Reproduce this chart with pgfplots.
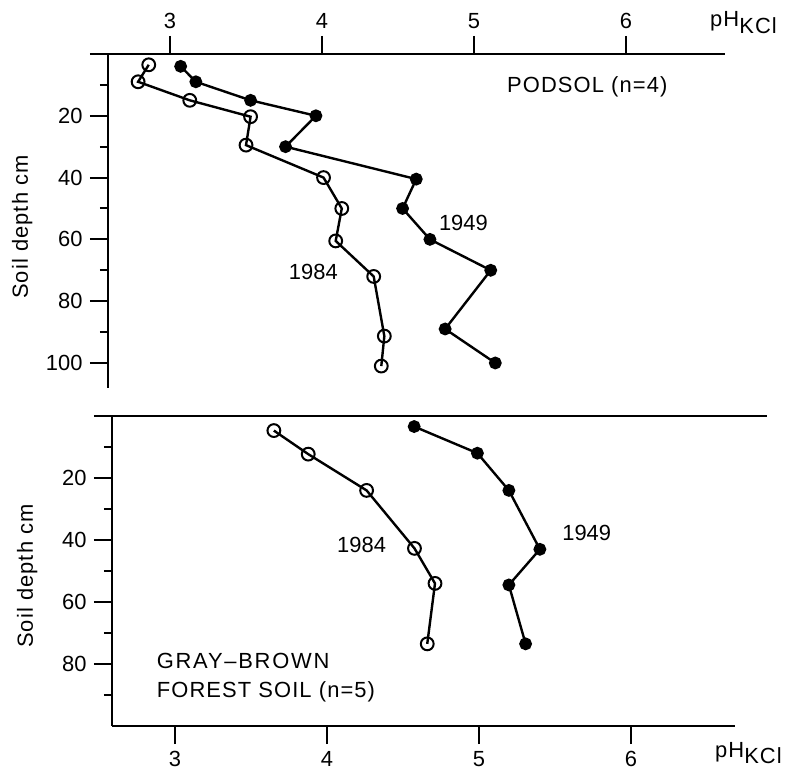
\documentclass[border=0pt]{standalone}
\usepackage{pgfplots}
\pgfplotsset{compat=1.18}
\usepackage{fontspec}
\setmainfont{Liberation Sans}
\newfontfamily\spaced[LetterSpace=5]{Liberation Sans}

\begin{document}
\fontsize{22}{26}\selectfont
\begin{tikzpicture}
\useasboundingbox (0,0) rectangle (787bp,775bp);
\pgfplotsset{
  common/.style={
    x=152bp, y=3.09bp, y dir=reverse, clip=false,
    axis line style={line width=2bp},
    tick style={line width=2bp, black},
    major tick length=18bp, minor tick length=8bp,
    tick align=outside,
    /pgf/number format/assume math mode=true,
    ticklabel style={font=\fontsize{22}{26}\selectfont},
    xtick={3,4,5,6},
    minor ytick={10,30,50,70,90},
  },
  s84/.style={line width=2.4bp, black, mark=o, mark size=6.4bp, mark options={fill=white, line width=2bp}},
  s49/.style={line width=2.4bp, black, mark=*, mark size=5.2bp, mark options={fill=black}},
}
% ---------------- top panel: PODSOL
\begin{axis}[common,
  at={(108bp,387.3bp)}, anchor=south west,
  xmin=2.592, xmax=6.651, ymin=0, ymax=108,
  axis x line*=top, axis y line*=left,
  ytick={0,20,40,60,80,100}, yticklabels={,20,40,60,80,100},
  xlabel={\fontsize{22}{26}\selectfont\spaced pH\raisebox{-6.5bp}{KCl}},
  xlabel style={at={(axis description cs:0.9757,1.081)}, anchor=base west, inner sep=0pt},
  ylabel={\spaced Soil depth cm},
  ylabel style={at={(axis description cs:-0.139,0.4816)}, anchor=center},
]
\addplot[s49] coordinates {(3.07,4) (3.17,9) (3.53,15) (3.96,20) (3.76,30) (4.62,40.5) (4.53,50) (4.71,60) (5.11,70) (4.81,89) (5.14,100)};
\addplot[s84] coordinates {(2.86,3.5) (2.79,9) (3.13,15) (3.53,20.3) (3.50,29.5) (4.01,40) (4.13,50) (4.09,60.5) (4.34,72) (4.41,91.3) (4.39,101)};
\node at (axis cs:4.93,54.6) {1949};
\node at (axis cs:3.943,70.6) {1984};
\node[anchor=west, inner sep=0pt] at (axis cs:5.217,10.7) {\spaced PODSOL (n=4)};
\end{axis}
% ---------------- bottom panel: GRAY-BROWN FOREST SOIL
\begin{axis}[common,
  at={(112bp,49bp)}, anchor=south west, y=3.1bp,
  xmin=2.586, xmax=6.684, ymin=0, ymax=100,
  axis x line*=bottom, axis y line*=left,
  ytick={0,20,40,60,80}, yticklabels={,20,40,60,80},
  xlabel={\fontsize{22}{26}\selectfont\spaced pH\raisebox{-6.5bp}{KCl}},
  xlabel style={at={(axis description cs:0.968,-0.1)}, anchor=base west, inner sep=0pt},
  ylabel={\spaced Soil depth cm},
  ylabel style={at={(axis description cs:-0.136,0.4839)}, anchor=center},
]
\draw[line width=2bp] (axis cs:2.586,0) -- (axis cs:6.895,0);
\addplot[s49] coordinates {(4.574,3.4) (4.99,12) (5.197,24) (5.401,43) (5.197,54.5) (5.307,73.5)};
\addplot[s84] coordinates {(3.651,4.7) (3.877,12.3) (4.261,24) (4.576,42.7) (4.711,54) (4.66,73.5)};
\node at (axis cs:4.228,41.6) {1984};
\node at (axis cs:5.709,37.8) {1949};
\node[anchor=west, align=left, inner sep=0pt] at (axis cs:2.88,84.4) {{\spaced\addfontfeature{LetterSpace=8}GRAY\textendash BROWN}\\[3bp]\spaced FOREST SOIL (n=5)};
\end{axis}
\end{tikzpicture}
\end{document}
